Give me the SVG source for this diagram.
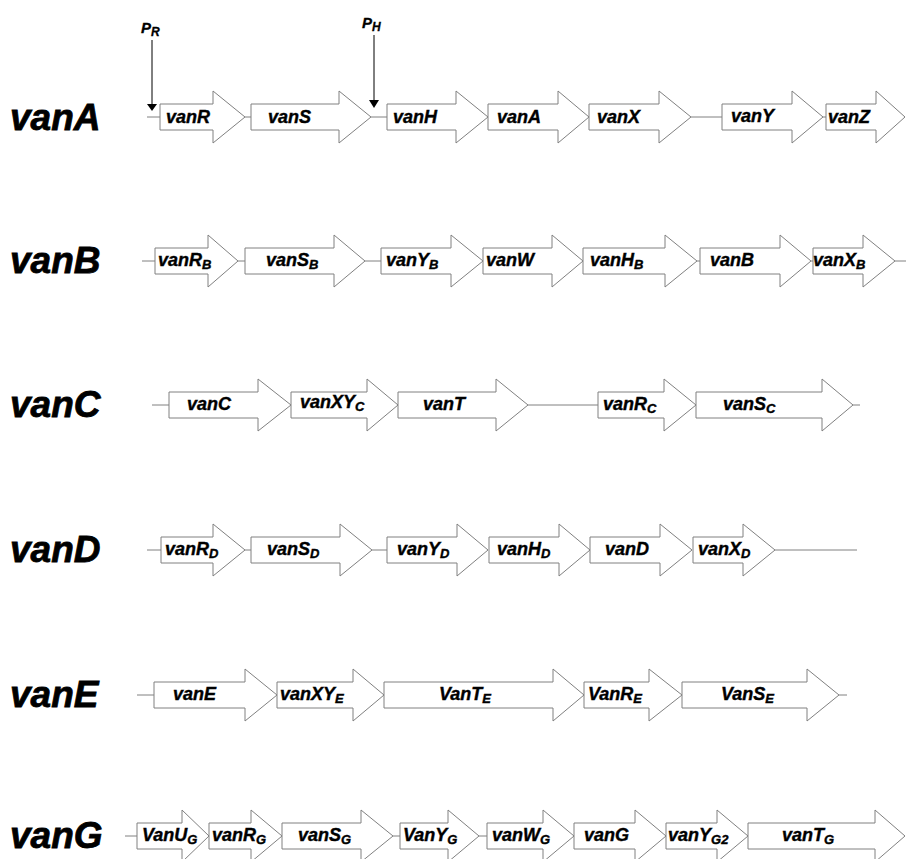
<svg xmlns="http://www.w3.org/2000/svg" width="906" height="859" viewBox="0 0 906 859">
<style>
.g{fill:#fff;stroke:#808080;stroke-width:1}
.ln{stroke:#808080;stroke-width:1;fill:none}
.t{font-family:"Liberation Sans",Arial,sans-serif;font-weight:bold;font-style:italic;font-size:18px;fill:#000;stroke:#000;stroke-width:0.4}
.s{font-size:13px}
.big{font-family:"Liberation Sans",Arial,sans-serif;font-weight:bold;font-style:italic;font-size:37px;fill:#000;stroke:#000;stroke-width:0.8}
.p{font-family:"Liberation Sans",Arial,sans-serif;font-weight:bold;font-style:italic;font-size:15px;fill:#000;stroke:#000;stroke-width:0.3}
</style>
<rect width="906" height="859" fill="#fff"/>
<g id="connectors">
<line class="ln" x1="147" y1="117" x2="160" y2="117"/><line class="ln" x1="245" y1="117" x2="251" y2="117"/><line class="ln" x1="371" y1="117" x2="387" y2="117"/><line class="ln" x1="691" y1="117" x2="722" y2="117"/><line class="ln" x1="823" y1="117" x2="826" y2="117"/>
<line class="ln" x1="142" y1="261" x2="155" y2="261"/><line class="ln" x1="238" y1="261" x2="245" y2="261"/><line class="ln" x1="365" y1="261" x2="381" y2="261"/><line class="ln" x1="697" y1="261" x2="700" y2="261"/><line class="ln" x1="811" y1="261" x2="813" y2="261"/><line class="ln" x1="895" y1="261" x2="906" y2="261"/>
<line class="ln" x1="152" y1="405" x2="169" y2="405"/><line class="ln" x1="528" y1="405" x2="598" y2="405"/><line class="ln" x1="853" y1="405" x2="860" y2="405"/>
<line class="ln" x1="147" y1="550" x2="161" y2="550"/><line class="ln" x1="245" y1="550" x2="251" y2="550"/><line class="ln" x1="372" y1="550" x2="387" y2="550"/><line class="ln" x1="775" y1="550" x2="857" y2="550"/>
<line class="ln" x1="137" y1="695" x2="154" y2="695"/><line class="ln" x1="839" y1="695" x2="847" y2="695"/>
<line class="ln" x1="125" y1="836" x2="137" y2="836"/><line class="ln" x1="393" y1="836" x2="400" y2="836"/><line class="ln" x1="479" y1="836" x2="487" y2="836"/>
<g id="promoters">
<line x1="152" y1="40" x2="152" y2="105" stroke="#000" stroke-width="1"/><polygon points="147,104 157,104 152,111" fill="#000"/>
<line x1="374" y1="35" x2="374" y2="101" stroke="#000" stroke-width="1"/><polygon points="369,100 379,100 374,108" fill="#000"/>
<text class="p" x="141" y="33">P<tspan font-size="12" dy="3">R</tspan></text>
<text class="p" x="362" y="28">P<tspan font-size="12" dy="3">H</tspan></text>
</g>
</g>
<g id="labels">
<text class="big" x="10" y="130">vanA</text>
<text class="big" x="10" y="273">vanB</text>
<text class="big" x="10" y="417">vanC</text>
<text class="big" x="10" y="562">vanD</text>
<text class="big" x="10" y="707">vanE</text>
<text class="big" x="10" y="848">vanG</text>
</g>
<g id="rowA">
<g id="vanR"><path class="g" d="M160,104H213V91L245,117L213,143V130H160Z"/><text class="t" x="166" y="123">vanR</text></g>
<g id="vanS"><path class="g" d="M251,104H339V91L371,117L339,143V130H251Z"/><text class="t" x="268" y="123">vanS</text></g>
<g id="vanH"><path class="g" d="M387,104H456V91L488,117L456,143V130H387Z"/><text class="t" x="393" y="123">vanH</text></g>
<g id="vanA_g"><path class="g" d="M488,104H558V91L589,117L558,143V130H488Z"/><text class="t" x="497" y="123">vanA</text></g>
<g id="vanX"><path class="g" d="M589,104H659V91L691,117L659,143V130H589Z"/><text class="t" x="597" y="123">vanX</text></g>
<g id="vanY"><path class="g" d="M722,104H792V91L823,117L792,143V130H722Z"/><text class="t" x="731" y="122">vanY</text></g>
<g id="vanZ"><path class="g" d="M826,104H876V91L905,117L876,143V130H826Z"/><text class="t" x="828" y="123">vanZ</text></g>
</g>
<g id="rowB">
<g id="vanRB"><path class="g" d="M155,248H208V235L238,261L208,287V274H155Z"/><text class="t" x="158" y="266">vanR<tspan class="s" dy="3">B</tspan></text></g>
<g id="vanSB"><path class="g" d="M245,248H334V235L365,261L334,287V274H245Z"/><text class="t" x="266" y="266">vanS<tspan class="s" dy="3">B</tspan></text></g>
<g id="vanYB"><path class="g" d="M381,248H451V235L483,261L451,287V274H381Z"/><text class="t" x="386" y="266">vanY<tspan class="s" dy="3">B</tspan></text></g>
<g id="vanW"><path class="g" d="M483,248H552V235L583,261L552,287V274H483Z"/><text class="t" x="486" y="266">vanW</text></g>
<g id="vanHB"><path class="g" d="M583,248H665V235L697,261L665,287V274H583Z"/><text class="t" x="590" y="266">vanH<tspan class="s" dy="3">B</tspan></text></g>
<g id="vanB_g"><path class="g" d="M700,248H780V235L811,261L780,287V274H700Z"/><text class="t" x="710" y="266">vanB</text></g>
<g id="vanXB"><path class="g" d="M813,248H863V235L895,261L863,287V274H813Z"/><text class="t" x="813" y="266">vanX<tspan class="s" dy="3">B</tspan></text></g>
</g>
<g id="rowC">
<g id="vanC_g"><path class="g" d="M169,392H258V379L291,405L258,431V418H169Z"/><text class="t" x="187" y="410">vanC</text></g>
<g id="vanXYC"><path class="g" d="M291,392H367V379L398,405L367,431V418H291Z"/><text class="t" x="300" y="408">vanXY<tspan class="s" dy="3">C</tspan></text></g>
<g id="vanT"><path class="g" d="M398,392H496V379L528,405L496,431V418H398Z"/><text class="t" x="423" y="410">vanT</text></g>
<g id="vanRC"><path class="g" d="M598,392H664V379L696,405L664,431V418H598Z"/><text class="t" x="603" y="410">vanR<tspan class="s" dy="3">C</tspan></text></g>
<g id="vanSC"><path class="g" d="M696,392H822V379L853,405L822,431V418H696Z"/><text class="t" x="723" y="410">vanS<tspan class="s" dy="3">C</tspan></text></g>
</g>
<g id="rowD">
<g id="vanRD"><path class="g" d="M161,537H213V524L245,550L213,576V563H161Z"/><text class="t" x="165" y="555">vanR<tspan class="s" dy="3">D</tspan></text></g>
<g id="vanSD"><path class="g" d="M251,537H340V524L372,550L340,576V563H251Z"/><text class="t" x="267" y="555">vanS<tspan class="s" dy="3">D</tspan></text></g>
<g id="vanYD"><path class="g" d="M387,537H457V524L488,550L457,576V563H387Z"/><text class="t" x="397" y="555">vanY<tspan class="s" dy="3">D</tspan></text></g>
<g id="vanHD"><path class="g" d="M489,537H559V524L590,550L559,576V563H489Z"/><text class="t" x="497" y="555">vanH<tspan class="s" dy="3">D</tspan></text></g>
<g id="vanD_g"><path class="g" d="M590,537H660V524L692,550L660,576V563H590Z"/><text class="t" x="605" y="555">vanD</text></g>
<g id="vanXD"><path class="g" d="M693,537H743V524L775,550L743,576V563H693Z"/><text class="t" x="698" y="555">vanX<tspan class="s" dy="3">D</tspan></text></g>
</g>
<g id="rowE">
<g id="vanE_g"><path class="g" d="M154,682H245V669L277,695L245,721V708H154Z"/><text class="t" x="173" y="700">vanE</text></g>
<g id="vanXYE"><path class="g" d="M277,682H353V669L384,695L353,721V708H277Z"/><text class="t" x="280" y="700">vanXY<tspan class="s" dy="3">E</tspan></text></g>
<g id="VanTE"><path class="g" d="M384,682H553V669L584,695L553,721V708H384Z"/><text class="t" x="439" y="700">VanT<tspan class="s" dy="3">E</tspan></text></g>
<g id="VanRE"><path class="g" d="M584,682H649V669L682,695L649,721V708H584Z"/><text class="t" x="588" y="700">VanR<tspan class="s" dy="3">E</tspan></text></g>
<g id="VanSE"><path class="g" d="M682,682H807V669L839,695L807,721V708H682Z"/><text class="t" x="721" y="700">VanS<tspan class="s" dy="3">E</tspan></text></g>
</g>
<g id="rowG">
<g id="VanUG"><path class="g" d="M137,823H182V810L209,836L182,862V849H137Z"/><text class="t" x="142" y="841">VanU<tspan class="s" dy="3">G</tspan></text></g>
<g id="vanRG"><path class="g" d="M209,823H251V810L282,836L251,862V849H209Z"/><text class="t" x="212" y="841">vanR<tspan class="s" dy="3">G</tspan></text></g>
<g id="vanSG"><path class="g" d="M282,823H361V810L393,836L361,862V849H282Z"/><text class="t" x="298" y="841">vanS<tspan class="s" dy="3">G</tspan></text></g>
<g id="VanYG"><path class="g" d="M400,823H448V810L479,836L448,862V849H400Z"/><text class="t" x="403" y="841">VanY<tspan class="s" dy="3">G</tspan></text></g>
<g id="vanWG"><path class="g" d="M487,823H543V810L574,836L543,862V849H487Z"/><text class="t" x="492" y="841">vanW<tspan class="s" dy="3">G</tspan></text></g>
<g id="vanG_g"><path class="g" d="M574,823H635V810L666,836L635,862V849H574Z"/><text class="t" x="584" y="841">vanG</text></g>
<g id="vanYG2"><path class="g" d="M666,823H717V810L748,836L717,862V849H666Z"/><text class="t" x="668" y="841">vanY<tspan class="s" dy="3">G2</tspan></text></g>
<g id="vanTG"><path class="g" d="M748,823H875V810L905,836L875,862V849H748Z"/><text class="t" x="782" y="841">vanT<tspan class="s" dy="3">G</tspan></text></g>
</g>
</svg>
